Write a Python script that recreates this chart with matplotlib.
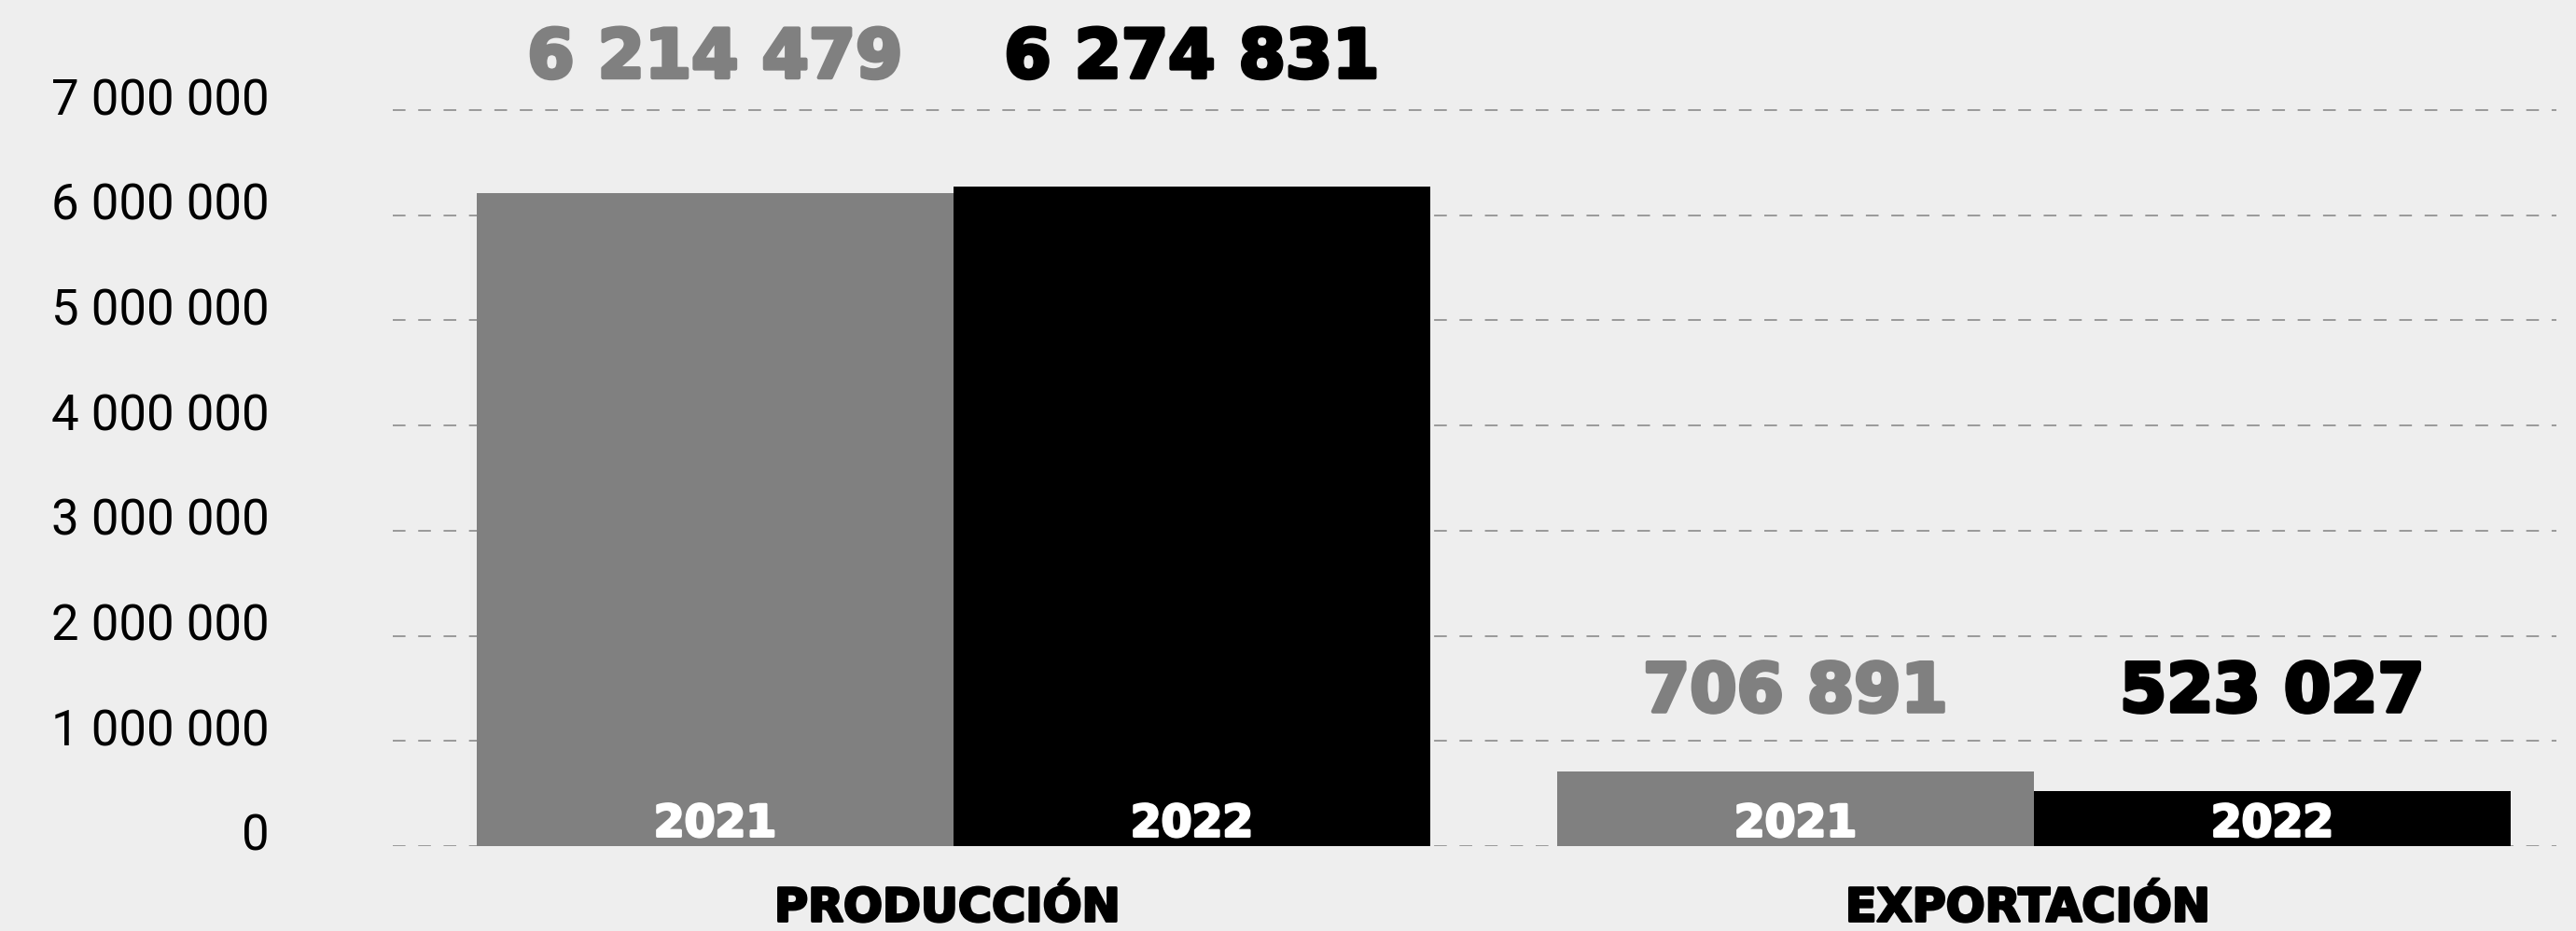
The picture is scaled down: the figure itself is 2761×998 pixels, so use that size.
import matplotlib
matplotlib.use('Agg')
import matplotlib.pyplot as plt
import matplotlib.patheffects as pe
import numpy as np

# Data
categories = ["PRODUCCIÓN", "EXPORTACIÓN"]
years = ["2021", "2022"]
values_2021 = [6214479, 706891]
values_2022 = [6274831, 523027]
y_ticks = [0, 1000000, 2000000, 3000000, 4000000, 5000000, 6000000, 7000000]

# Style
bg_color = '#eeeeee'
colors = ['#808080', '#000000']
bar_width = 0.4413
label_base = [7.31e6, 1.28e6]   # baseline of the big value labels per group


def fmt(v):
    return f"{v:,}".replace(",", " ")


def heavy(color, lw):
    # thicken the bold glyphs a bit, the original uses a black-weight face
    return [pe.withStroke(linewidth=lw, foreground=color)]


fig = plt.figure(figsize=(27.61, 9.98), dpi=100, facecolor=bg_color)
ax = fig.add_axes([0.1525, 0.0912, 0.8399, 0.9034])
ax.set_facecolor(bg_color)

x = np.arange(len(categories))
series = [values_2021, values_2022]
offsets = [-bar_width / 2, bar_width / 2]

for vals, off, color, year in zip(series, offsets, colors, years):
    ax.bar(x + off, vals, width=bar_width, color=color, zorder=3)
    for xi, v, base in zip(x, vals, label_base):
        # big value label above the group
        ax.text(xi + off, base, fmt(v), ha='center', va='baseline',
                fontsize=52, fontweight='bold', family='DejaVu Sans',
                color=color, zorder=4, path_effects=heavy(color, 3))
        # year label inside the bar
        ax.annotate(year, xy=(xi + off, 0), xytext=(0, 7.5),
                    textcoords='offset points', ha='center', va='baseline',
                    fontsize=34, fontweight='bold', family='DejaVu Sans',
                    color='white', zorder=5, path_effects=heavy('white', 2))

# Category labels below the bars
for xi, cat in zip(x, categories):
    ax.annotate(cat, xy=(xi, 0), xycoords=('data', 'axes fraction'),
                xytext=(-5, -58), textcoords='offset points',
                ha='center', va='baseline', fontsize=35.5, fontweight='bold',
                family='DejaVu Sans', color='black',
                path_effects=heavy('black', 2))

# Y labels drawn by hand so they sit just above their grid lines
for v in y_ticks:
    ax.annotate(fmt(v), xy=(0, v), xycoords=('axes fraction', 'data'),
                xytext=(-95, -3.6), textcoords='offset points',
                ha='right', va='baseline', fontsize=38, fontweight='normal',
                family=['Roboto', 'DejaVu Sans'], color='black')

ax.set_xlim(-0.519, 1.4836)
ax.set_ylim(0, 8e6)
ax.set_yticks(y_ticks)
ax.set_xticks([])
ax.tick_params(left=False, labelleft=False)
ax.yaxis.grid(True, color='#999999', linestyle=(0, (7, 7)), linewidth=1.4)
ax.set_axisbelow(True)
for s in ax.spines.values():
    s.set_visible(False)

fig.savefig('out.png', dpi=100, facecolor=bg_color)
